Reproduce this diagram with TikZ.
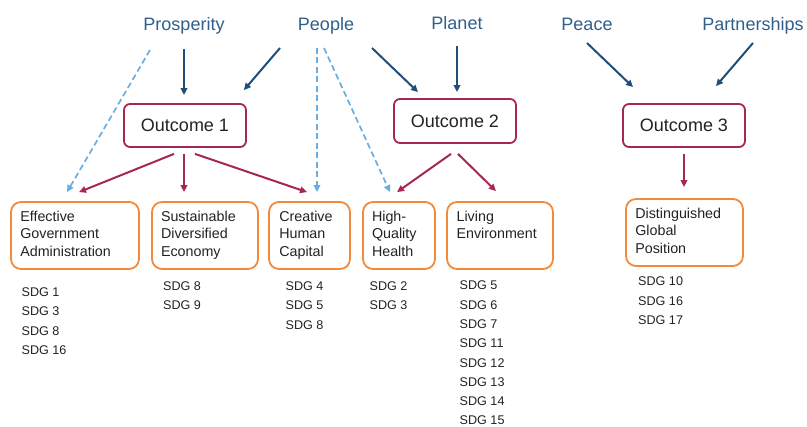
\documentclass[tikz,border=0pt]{standalone}
\usepackage{fontspec}
\setmainfont{Liberation Sans}
\usetikzlibrary{arrows.meta,calc}
\definecolor{lbl}{HTML}{2F5F8A}
\definecolor{dkblue}{HTML}{1F4E79}
\definecolor{ltblue}{HTML}{6AAEE0}
\definecolor{crim}{HTML}{A6284F}
\definecolor{orng}{HTML}{F28A3C}
\definecolor{txt}{HTML}{222222}
\begin{document}
\begin{tikzpicture}[x=1pt,y=-1pt,
 pillar/.style={font=\fontsize{18}{20}\selectfont, text=lbl, inner sep=0, anchor=base},
 outc/.style={draw=crim, line width=1.8pt, rounded corners=6pt, minimum width=122pt, minimum height=43pt, inner sep=0, font=\fontsize{18}{20}\selectfont, text=txt},
 goal/.style={draw=orng, line width=1.8pt, rounded corners=10pt, minimum height=67pt, inner sep=0},
 goaltext/.style={anchor=north west, inner sep=0, align=left, font=\fontsize{14.3}{17.7}\selectfont, text=txt},
 sdg/.style={anchor=north west, inner sep=0, align=left, font=\fontsize{12.6}{19.3}\selectfont, text=txt},
 solidarr/.style={draw=dkblue, line width=2pt, -{Triangle[length=7pt,width=6.5pt]}},
 dasharr/.style={draw=ltblue, line width=1.7pt, dash pattern=on 6pt off 3.5pt, -{Triangle[length=7pt,width=6.5pt]}},
 redarr/.style={draw=crim, line width=2pt, -{Triangle[length=7pt,width=6.5pt]}},
]
\useasboundingbox (0,0) rectangle (807,427);

% pillars
\node[pillar] (prosp) at (184,31) {Prosperity};
\node[pillar] (people) at (326,31) {People};
\node[pillar] (planet) at (457,29.3) {Planet};
\node[pillar] (peace) at (587,31) {Peace};
\node[pillar] (partner) at (753,31) {Partnerships};

% outcomes
\node[outc] (o1) at (185,125.5) {Outcome 1};
\node[outc, minimum height=44pt] (o2) at (455,121) {Outcome 2};
\node[outc] (o3) at (684,125.5) {Outcome 3};

% goal boxes
\node[goal, minimum width=128pt] (eff) at (75,235.5) {};
\node[goal, minimum width=106pt] (sus) at (205,235.5) {};
\node[goal, minimum width=81pt] (cre) at (309.5,235.5) {};
\node[goal, minimum width=72pt] (hq) at (399,235.5) {};
\node[goal, minimum width=106pt] (liv) at (500,235.5) {};
\node[goal, minimum width=117pt] (dist) at (684.5,232.5) {};

\node[goaltext] (efft) at ($(eff.north west)+(10,9.6)$) {Effective\\Government\\Administration};
\node[goaltext] (sust) at ($(sus.north west)+(9.7,9.6)$) {Sustainable\\Diversified\\Economy};
\node[goaltext] (cret) at ($(cre.north west)+(11,9.6)$) {Creative\\Human\\Capital};
\node[goaltext] (hqt) at ($(hq.north west)+(9.7,9.6)$) {High-\\Quality\\Health};
\node[goaltext] (livt) at ($(liv.north west)+(10.3,9.6)$) {Living\\Environment};
\node[goaltext] (distt) at ($(dist.north west)+(10,9.6)$) {Distinguished\\Global\\Position};

% SDG lists
\node[sdg] (effs) at (21.5,287.6) {SDG 1\\SDG 3\\SDG 8\\SDG 16};
\node[sdg] (suss) at (163,281.6) {SDG 8\\SDG 9};
\node[sdg] (cres) at (285.5,281.6) {SDG 4\\SDG 5\\SDG 8};
\node[sdg] (hqs) at (369.5,281.6) {SDG 2\\SDG 3};
\node[sdg] (livs) at (459.5,280.9) {SDG 5\\SDG 6\\SDG 7\\SDG 11\\SDG 12\\SDG 13\\SDG 14\\SDG 15};
\node[sdg] (dists) at (638,276.9) {SDG 10\\SDG 16\\SDG 17};

% pillar arrows
\draw[dasharr] ($(prosp.base)+(-34,19)$) -- ($(eff.north)+(-8,-9)$);
\draw[solidarr] ($(prosp.base)+(0,18)$) -- ($(o1.north)+(-1,-8)$);
\draw[solidarr] ($(people.base)+(-46,17)$) -- ($(o1.north east)+(-3,-13)$);
\draw[dasharr] ($(people.base)+(-9,17)$) -- ($(cre.north)+(7.5,-9)$);
\draw[dasharr] ($(people.base)+(-2,17)$) -- ($(hq.north)+(-9,-9)$);
\draw[solidarr] ($(people.base)+(46,17)$) -- ($(o2.north)+(-37,-6)$);
\draw[solidarr] ($(planet.base)+(0,16.7)$) -- ($(o2.north)+(2,-6)$);
\draw[solidarr] ($(peace.base)+(0,12)$) -- ($(o3.north)+(-51,-16)$);
\draw[solidarr] ($(partner.base)+(0,12)$) -- ($(o3.north)+(32,-17)$);

% outcome arrows
\draw[redarr] ($(o1.south)+(-11,6)$) -- ($(eff.north)+(4,-9)$);
\draw[redarr] ($(o1.south)+(-1,6)$) -- ($(sus.north)+(-21,-9)$);
\draw[redarr] ($(o1.south)+(10,6)$) -- ($(cre.north)+(-2.5,-9)$);
\draw[redarr] ($(o2.south)+(-4,10)$) -- ($(hq.north)+(-2,-9)$);
\draw[redarr] ($(o2.south)+(3,10)$) -- ($(liv.north)+(-4,-10)$);
\draw[redarr] ($(o3.south)+(0,6)$) -- ($(dist.north)+(-0.5,-11)$);
\end{tikzpicture}
\end{document}
